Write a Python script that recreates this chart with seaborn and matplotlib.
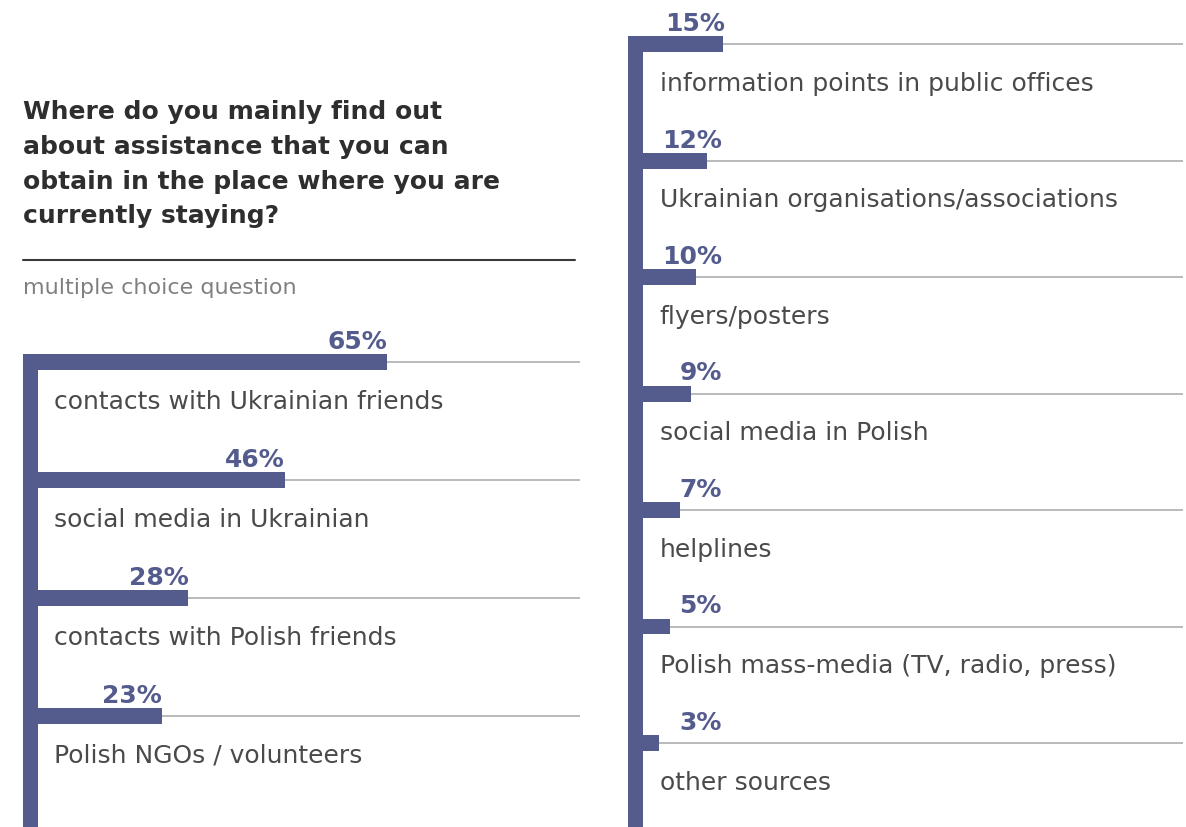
import numpy as np
import pandas as pd
import seaborn as sns
import matplotlib.pyplot as plt
from matplotlib.lines import Line2D

sns.set_theme(style="white")
plt.rcParams['font.family'] = ['DejaVu Sans']

left_labels = ["contacts with Ukrainian friends", "social media in Ukrainian",
               "contacts with Polish friends", "Polish NGOs / volunteers"]
left_values = [65, 46, 28, 23]

right_labels = ["information points in public offices", "Ukrainian organisations/associations",
                "flyers/posters", "social media in Polish", "helplines",
                "Polish mass-media (TV, radio, press)", "other sources"]
right_values = [15, 12, 10, 9, 7, 5, 3]

title = ("Where do you mainly find out\nabout assistance that you can\n"
         "obtain in the place where you are\ncurrently staying?")
subtitle = "multiple choice question"

BAR = "#545b8d"
GRID = "#b4b4b4"
TEXT = "#4a4a4a"

W, H = 1186, 828
fig = plt.figure(figsize=(W / 100, H / 100), dpi=100)


def px_axes(x0, y0, x1, y1):
    return fig.add_axes([x0 / W, 1 - y1 / H, (x1 - x0) / W, (y1 - y0) / H])


def panel(ax, labels, values, scale, zero_px, x0, x1, y0, y1, first, step,
          bar_top, label_min, label_gap):
    df = pd.DataFrame({"label": labels, "value": values})
    n = len(labels)
    ax.hlines(range(n), 0, (x1 - zero_px) / scale, color=GRID, lw=1.3, zorder=1)
    sns.barplot(data=df, x="value", y="label", orient="h", color=BAR,
                width=16 / step, saturation=1, linewidth=0, ax=ax, zorder=2)
    ax.set_xlim(-(zero_px - x0) / scale, (x1 - zero_px) / scale)
    ax.set_ylim((y1 - first) / step, -(first - y0) / step)
    ax.axvspan(-(zero_px - x0) / scale, 0, ymin=0,
               ymax=(y1 - bar_top) / (y1 - y0), color=BAR, lw=0, zorder=3)
    for i, (lab, v) in enumerate(zip(labels, values)):
        ax.text(max(v, label_min) + label_gap / scale, i - 14 / step, f"{v}%",
                ha="right", va="baseline", fontsize=18, fontweight="bold",
                color=BAR)
        ax.text(16.5 / scale, i + 39 / step, lab, ha="left", va="center",
                fontsize=18, color=TEXT)
    ax.set_axis_off()


axl = px_axes(23, 330, 580, 828)
panel(axl, left_labels, left_values, 5.37, 38, 23, 580, 330, 828, 363, 118,
      355, 0, 0)

axr = px_axes(628, 0, 1183, 828)
panel(axr, right_labels, right_values, 5.33, 643, 628, 1183, 0, 828, 45, 116.5,
      37, 14.4, 2)

fig.text(23 / W, 1 - 100 / H, title, ha="left", va="top", fontsize=18,
         fontweight="bold", color="#2e2e2e", linespacing=1.57)
fig.add_artist(Line2D([23 / W, 575 / W], [1 - 261 / H, 1 - 261 / H],
                      color="#3a3a3a", lw=1.5))
fig.text(23 / W, 1 - 288 / H, subtitle, ha="left", va="center", fontsize=16,
         color="#808080")

fig.savefig("out.png", dpi=100)
